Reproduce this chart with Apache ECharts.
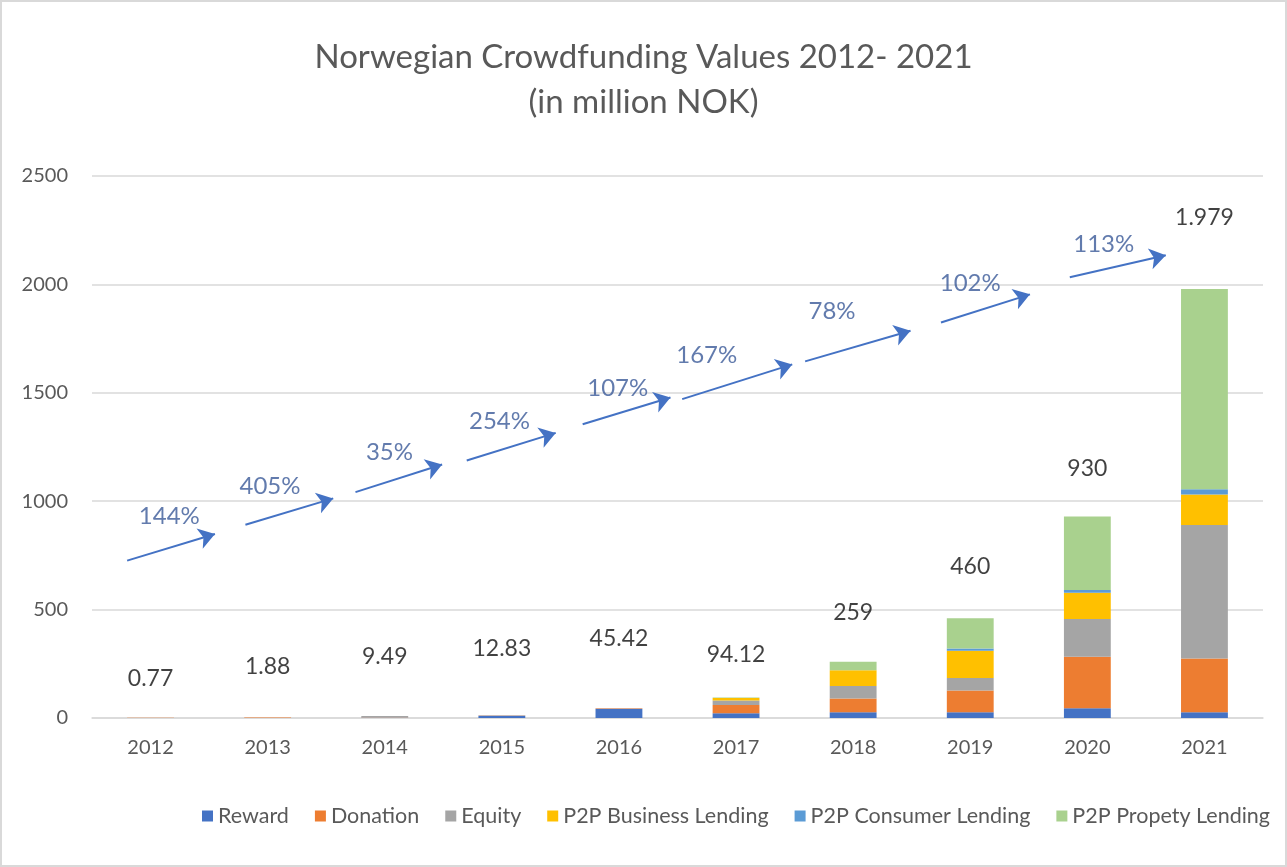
<!DOCTYPE html>
<html>
<head>
<meta charset="utf-8">
<title>Norwegian Crowdfunding Values 2012-2021</title>
<script src="https://cdn.jsdelivr.net/npm/echarts@6/dist/echarts.min.js"></script>
<style>
  html, body { margin: 0; padding: 0; background: #fff; }
  #chart {
    width: 1287px;
    height: 867px;
    box-sizing: border-box;
    border: 2px solid #d9d9d9;
  }
</style>
</head>
<body>
<div id="chart"></div>
<script>
// values in million NOK
const years = ['2012', '2013', '2014', '2015', '2016', '2017', '2018', '2019', '2020', '2021']
const reward = [0.5, 0.3, 1.5, 10, 43, 22, 26, 27, 45, 27]
const donation = [0.2, 1.5, 1, 2, 1.5, 38, 64, 100, 237, 248]
const equity = [0.07, 0.08, 6.99, 0.83, 0.92, 21, 58, 58, 175, 615]
const p2pBusiness = [0, 0, 0, 0, 0, 11, 72, 125, 121, 141]
const p2pConsumer = [0, 0, 0, 0, 0, 0.5, 0, 10, 12, 24]
const p2pProperty = [0, 0, 0, 0, 0, 1.62, 39, 140, 340, 924]
const totalLabels = ['0.77', '1.88', '9.49', '12.83', '45.42', '94.12', '259', '460', '930', '1.979']

// growth arrows between years: [x on 0..10 year scale, value]
const growthLabels = ['144%', '405%', '35%', '254%', '107%', '167%', '78%', '102%', '113%']
const arrowFrom = [[0.30, 726], [1.31, 891], [2.25, 1042], [3.20, 1188], [4.19, 1355], [5.04, 1471], [6.09, 1645], [7.25, 1824], [8.35, 2033]]
const arrowTo = [[1.05, 849], [2.06, 1013], [2.99, 1169], [3.96, 1315], [4.94, 1478], [5.98, 1631], [6.99, 1786], [8.01, 1954], [9.17, 2134]]
const growthLabelAt = [[0.66, 931], [1.52, 1070], [2.54, 1224], [3.48, 1367], [4.49, 1521], [5.25, 1672], [6.32, 1878], [7.50, 2003], [8.64, 2186]]

const series = [
  { name: 'Reward', data: reward, color: '#4472C4' },
  { name: 'Donation', data: donation, color: '#ED7D31' },
  { name: 'Equity', data: equity, color: '#A5A5A5' },
  { name: 'P2P Business Lending', data: p2pBusiness, color: '#FFC000' },
  { name: 'P2P Consumer Lending', data: p2pConsumer, color: '#5B9BD5' },
  { name: 'P2P Propety Lending', data: p2pProperty, color: '#A9D18E' }
]

const totals = years.map((_, i) => series.reduce((s, d) => s + d.data[i], 0))
// how far each total label sits above its bar (px)
const totalLabelLift = [28, 40, 48, 55, 58, 32, 38, 40, 36, 60]

const FONT = 'Lato, "Open Sans", sans-serif'
const TEXT_GREY = '#595959'
const ARROW_BLUE = '#4472C4'

const chart = echarts.init(document.getElementById('chart'))

const option = {
  animation: false,
  textStyle: { fontFamily: FONT },
  title: {
    text: 'Norwegian Crowdfunding Values 2012- 2021\n(in million NOK)',
    left: 'center',
    top: 28,
    textStyle: {
      fontFamily: FONT,
      fontSize: 33,
      fontWeight: 'normal',
      color: TEXT_GREY,
      lineHeight: 45
    }
  },
  legend: {
    data: series.map(s => s.name),
    left: 195,
    top: 798,
    icon: 'rect',
    itemWidth: 11,
    itemHeight: 11,
    itemGap: 26,
    textStyle: { fontSize: 21.5, color: TEXT_GREY, fontFamily: FONT }
  },
  grid: {
    left: 90,
    right: 22,
    top: 174,
    bottom: 147
  },
  xAxis: [
    {
      type: 'category',
      data: years,
      axisLine: { lineStyle: { color: '#d9d9d9', width: 1.5 } },
      axisTick: { show: false },
      axisLabel: { color: TEXT_GREY, fontSize: 20, margin: 20 }
    },
    {
      type: 'value',
      min: 0,
      max: 10,
      show: false
    }
  ],
  yAxis: {
    type: 'value',
    min: 0,
    max: 2500,
    interval: 500,
    axisLine: { show: false },
    axisTick: { show: false },
    splitLine: { lineStyle: { color: '#d9d9d9', width: 1.5 } },
    axisLabel: { color: TEXT_GREY, fontSize: 20, margin: 24, formatter: v => String(v) }
  },
  series: [
    ...series.map(s => ({
      name: s.name,
      type: 'bar',
      stack: 'total',
      barWidth: '40%',
      data: s.data,
      itemStyle: { color: s.color }
    })),
    {
      name: 'Total',
      type: 'scatter',
      symbolSize: 0,
      data: totals.map((v, i) => ({
        value: v,
        label: { distance: totalLabelLift[i] }
      })),
      label: {
        show: true,
        position: 'top',
        fontSize: 23,
        color: '#111111',
        formatter: p => totalLabels[p.dataIndex]
      },
      z: 5
    },
    {
      name: 'Growth arrows',
      type: 'lines',
      coordinateSystem: 'cartesian2d',
      xAxisIndex: 1,
      yAxisIndex: 0,
      symbol: ['none', 'arrow'],
      symbolSize: 16,
      lineStyle: { color: ARROW_BLUE, width: 2, opacity: 1, curveness: 0 },
      data: arrowFrom.map((a, i) => ({ coords: [a, arrowTo[i]] })),
      z: 6
    },
    {
      name: 'Growth',
      type: 'scatter',
      xAxisIndex: 1,
      yAxisIndex: 0,
      symbolSize: 0,
      data: growthLabelAt.map((p, i) => ({ value: p, name: growthLabels[i] })),
      label: {
        show: true,
        position: 'inside',
        fontSize: 24,
        color: '#3B5A99',
        formatter: p => p.name
      },
      z: 6
    }
  ]
}

chart.setOption(option)

window.addEventListener('resize', () => {
  chart.resize()
})
</script>
</body>
</html>
